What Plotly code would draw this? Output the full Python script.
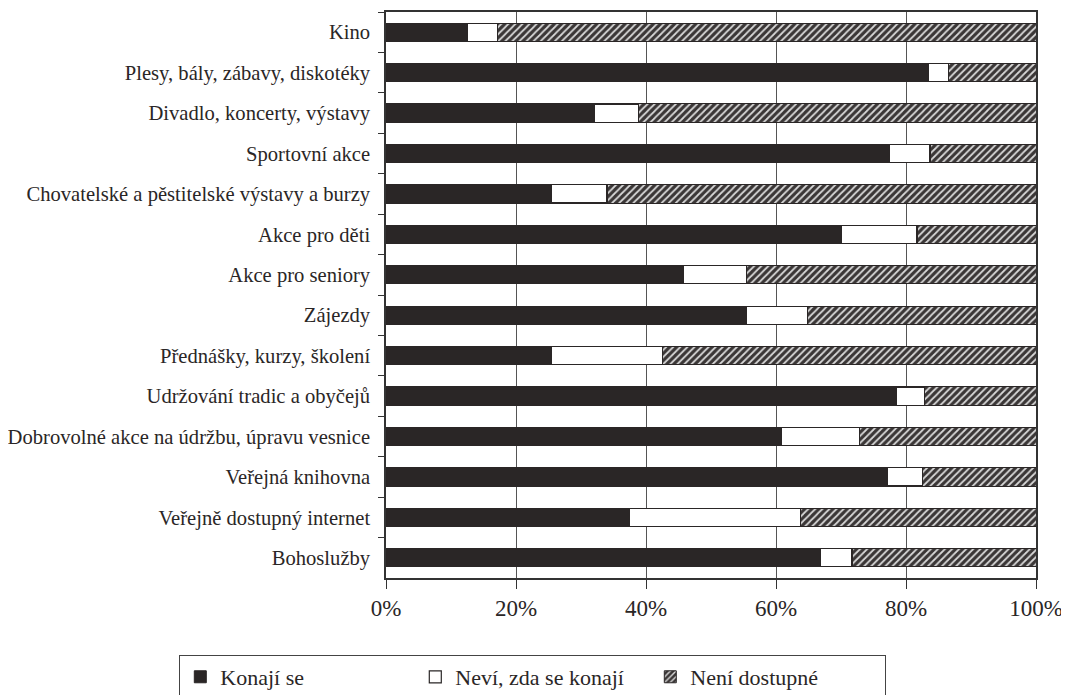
import plotly.graph_objects as go

categories = [
    "Kino",
    "Plesy, bály, zábavy, diskotéky",
    "Divadlo, koncerty, výstavy",
    "Sportovní akce",
    "Chovatelské a pěstitelské výstavy a burzy",
    "Akce pro děti",
    "Akce pro seniory",
    "Zájezdy",
    "Přednášky, kurzy, školení",
    "Udržování tradic a obyčejů",
    "Dobrovolné akce na údržbu, úpravu vesnice",
    "Veřejná knihovna",
    "Veřejně dostupný internet",
    "Bohoslužby",
]
konaji_se = [12.5, 83.5, 32.0, 77.4, 25.4, 70.0, 45.7, 55.4, 25.4, 78.5, 60.9, 77.1, 37.4, 66.8]
nevi = [4.6, 3.0, 6.9, 6.3, 8.6, 11.7, 9.7, 9.5, 17.1, 4.3, 12.0, 5.4, 26.4, 4.9]
neni_dostupne = [82.9, 13.5, 61.1, 16.3, 66.0, 18.3, 44.6, 35.1, 57.5, 17.2, 27.1, 17.5, 36.2, 28.3]
series_names = ["Konají se", "Neví, zda se konají", "Není dostupné"]
x_tickvals = [0, 20, 40, 60, 80, 100]
x_ticktext = ["0%", "20%", "40%", "60%", "80%", "100%"]

FONT = "Liberation Serif"
DARK = "#2a2626"

fig = go.Figure()
fig.add_trace(go.Bar(
    y=categories, x=konaji_se, name=series_names[0], orientation="h",
    marker=dict(color=DARK, line=dict(color=DARK, width=1)),
))
fig.add_trace(go.Bar(
    y=categories, x=nevi, name=series_names[1], orientation="h",
    marker=dict(color="white", line=dict(color=DARK, width=1.2)),
))
fig.add_trace(go.Bar(
    y=categories, x=neni_dostupne, name=series_names[2], orientation="h",
    marker=dict(color="#3a3636", line=dict(color=DARK, width=1),
                pattern=dict(shape="/", fgcolor="#d8d8d8", bgcolor="#3a3636",
                             size=5, solidity=0.35, fillmode="replace")),
))

# page body has an 8px default margin, so the figure is sized to the visible window
fig.update_layout(
    barmode="stack",
    bargap=0.55,
    width=1061, height=687,
    margin=dict(l=378, r=33, t=4, b=117, autoexpand=False),
    paper_bgcolor="white", plot_bgcolor="white",
    font=dict(family=FONT, color="#2a2626"),
    showlegend=True,
    legend=dict(
        orientation="h",
        xref="paper", yref="paper",
        x=-0.318, xanchor="left", y=-0.136, yanchor="top",
        bordercolor="#444", borderwidth=1,
        font=dict(family=FONT, size=22, color="#2a2626"),
        entrywidth=190, entrywidthmode="pixels",
        traceorder="normal",
    ),
)
fig.update_xaxes(
    range=[0, 100], tickvals=x_tickvals, ticktext=x_ticktext,
    showgrid=True, gridcolor="#555", gridwidth=1,
    showline=True, linecolor="#333", linewidth=1.5, mirror=True,
    ticks="outside", ticklen=9, tickcolor="#333",
    tickfont=dict(family=FONT, size=23, color="#2a2626"),
    ticklabelstandoff=0, ticklabeloverflow="allow",
    zeroline=False,
)
fig.update_yaxes(
    autorange="reversed",
    showgrid=False,
    showline=True, linecolor="#333", linewidth=1.5, mirror=True,
    ticks="outside", ticklen=6, tickcolor="#333", tickson="boundaries",
    tickfont=dict(family=FONT, size=20.6, color="#2a2626"),
    ticklabelstandoff=10,
)

fig.write_html("out.html")
